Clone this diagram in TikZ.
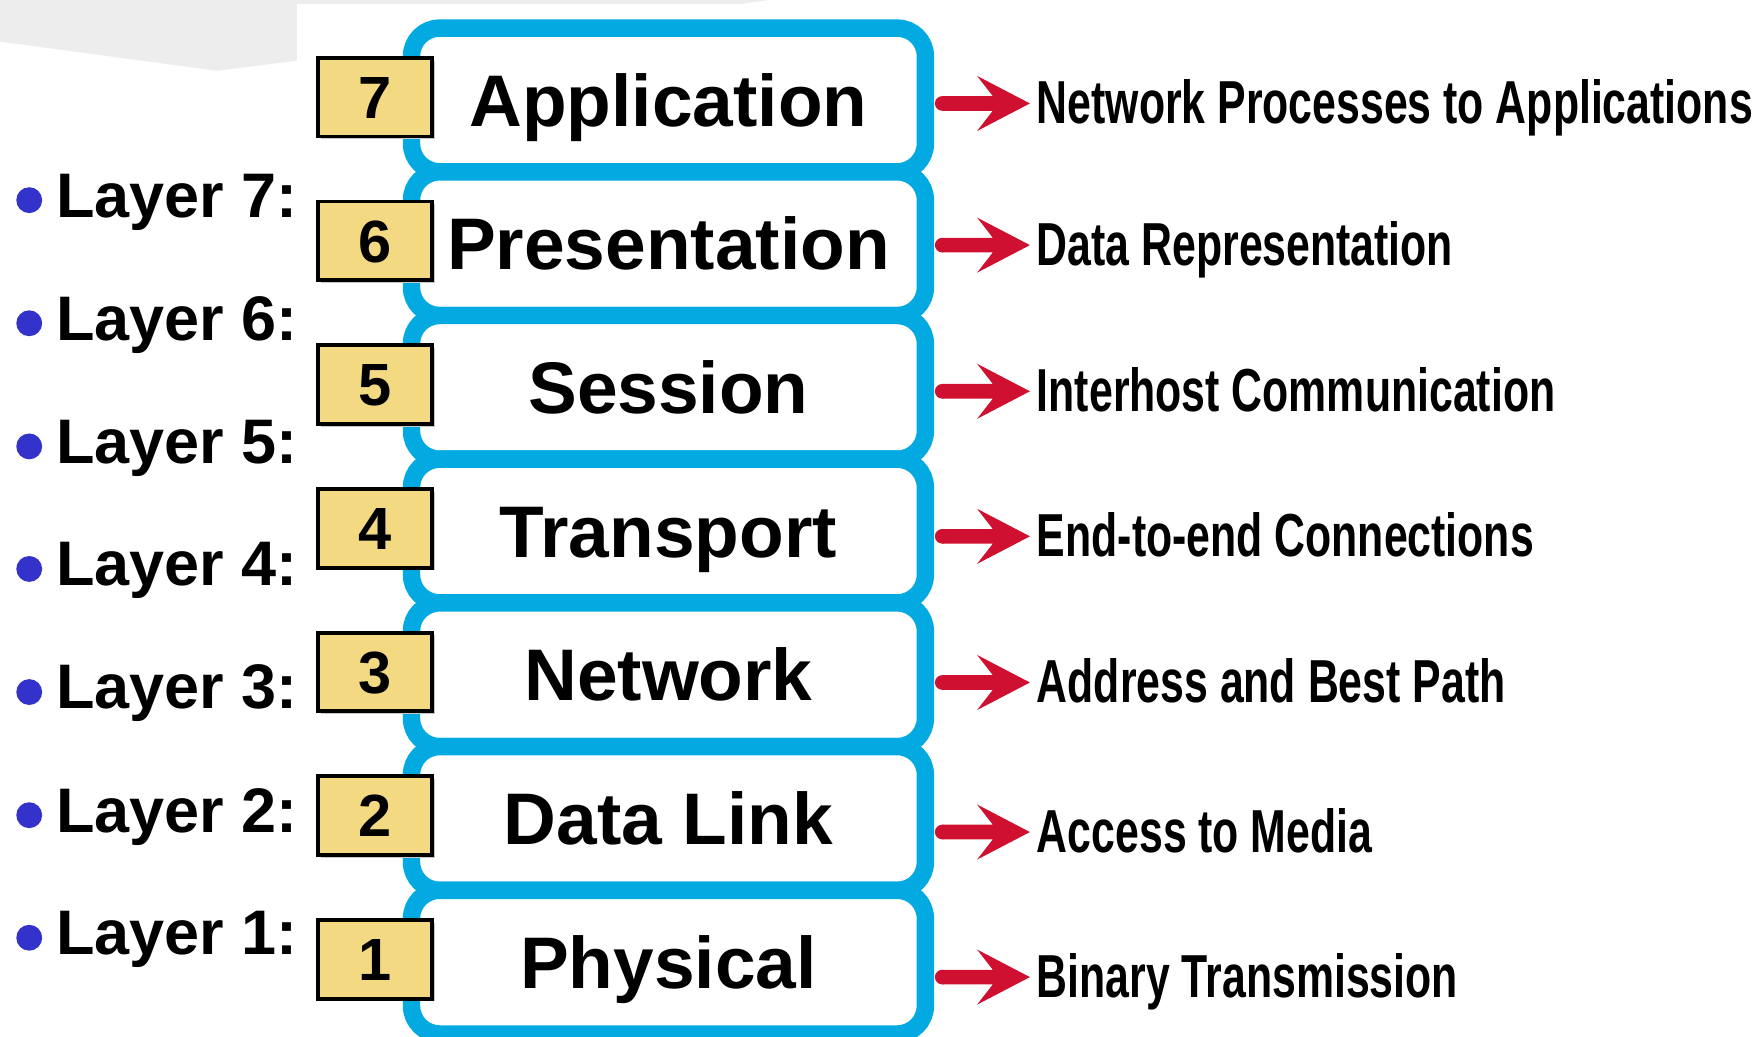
\documentclass[tikz,border=0pt]{standalone}
\usepackage{fontspec}
\setmainfont{Liberation Sans}
\newfontfamily\narrowfont{Liberation Sans}[FakeStretch=0.705]
\usetikzlibrary{shadows}
\definecolor{boxblue}{RGB}{2,170,225}
\definecolor{numyellow}{RGB}{243,217,130}
\definecolor{arrowred}{RGB}{208,16,48}
\definecolor{bulletblue}{RGB}{51,51,204}
\definecolor{bggray}{RGB}{237,237,237}
\begin{document}
\begin{tikzpicture}[x=1pt,y=-1pt,
  layerbox/.style={draw=boxblue, fill=white, line width=15.5, rounded corners=25,
    minimum width=457, minimum height=127.8, inner sep=0,
    font=\fontsize{65}{70}\selectfont\bfseries, text height=46.5, text depth=0},
  numbox/.style={draw=black, fill=numyellow, line width=3.5,
    minimum width=101, minimum height=70, inner sep=0,
    drop shadow={shadow xshift=2.5pt, shadow yshift=-2.5pt, fill=black!22, opacity=1},
    font=\fontsize{53}{56}\selectfont\bfseries, text height=38, text depth=0},
  layerlabel/.style={anchor=base west, inner sep=0,
    font=\fontsize{56}{60}\selectfont\bfseries},
  bulletdot/.style={circle, fill=bulletblue, minimum size=23, inner sep=0},
  desc/.style={anchor=base west, inner sep=0,
    font=\fontsize{54}{58}\narrowfont\bfseries},
  redarrow/.pic={
    \fill[arrowred] (-78,-6.5) -- (-33,-6.5) -- (-47,-24.5) -- (0,0)
      -- (-47,24.5) -- (-33,6.5) -- (-78,6.5) -- cycle;
    \fill[arrowred] (-78,0) circle[radius=6.5];
  }]
\useasboundingbox (0,0) rectangle (1568,922);
\clip (0,0) rectangle (1568,922);

% background grey shapes
\fill[bggray] (0,0) -- (264,0) -- (264,54) -- (193,63) -- (0,37) -- cycle;
\fill[bggray] (264,0) -- (684,0) -- (658,3.6) -- (264,3.6) -- cycle;

% layer boxes
\node[layerbox] (L7) at (594.5, 88.9)  {Application};
\node[layerbox] (L6) at (594.5, 216.7) {Presentation};
\node[layerbox] (L5) at (594.5, 344.5) {Session};
\node[layerbox] (L4) at (594.5, 472.3) {Transport};
\node[layerbox] (L3) at (594.5, 600.1) {Network};
\node[layerbox] (L2) at (594.5, 727.9) {Data Link};
\node[layerbox] (L1) at (594.5, 855.7) {Physical};

% number boxes
\node[numbox] (N7) at (333.5, 86.4)  {7};
\node[numbox] (N6) at (333.5, 214.2) {6};
\node[numbox] (N5) at (333.5, 342.0) {5};
\node[numbox] (N4) at (333.5, 469.8) {4};
\node[numbox] (N3) at (333.5, 597.6) {3};
\node[numbox] (N2) at (333.5, 725.4) {2};
\node[numbox] (N1) at (333.5, 853.2) {1};

% left labels
\foreach \k/\b in {7/193, 6/302.5, 5/412, 4/521, 3/630.5, 2/740, 1/849} {
  \node[bulletdot] (B\k) at (26, \b-15) {};
  \node[layerlabel] (T\k) at (50, \b) {Layer \k:};
}

% arrows and descriptions
\pic at (916, 92)  {redarrow};
\node[desc] (D7) at (922, 110) {Network Processes to Applications};
\pic at (916, 218) {redarrow};
\node[desc] (D6) at (922, 236) {Data Representation};
\pic at (916, 348) {redarrow};
\node[desc] (D5) at (922, 366) {Interhost Communication};
\pic at (916, 477) {redarrow};
\node[desc] (D4) at (922, 495) {End-to-end Connections};
\pic at (916, 607) {redarrow};
\node[desc] (D3) at (922, 625) {Address and Best Path};
\pic at (916, 740) {redarrow};
\node[desc] (D2) at (922, 758) {Access to Media};
\pic at (916, 869) {redarrow};
\node[desc] (D1) at (922, 887) {Binary Transmission};
\end{tikzpicture}
\end{document}
